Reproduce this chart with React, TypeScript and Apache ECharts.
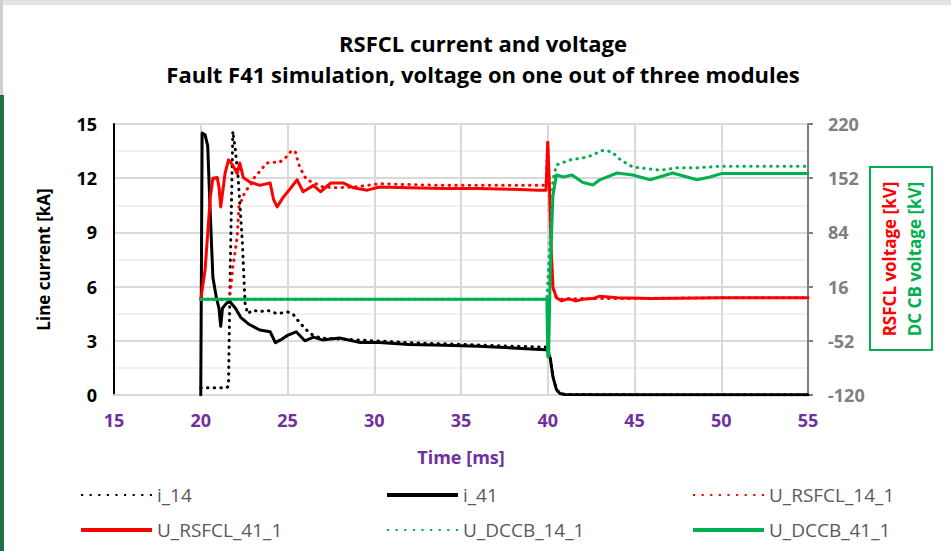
import React, { useEffect, useRef } from "react";
import * as echarts from "echarts";

// ---- data (time in ms, current in kA, voltage in kV) ----
const i14T = [20, 21.5, 21.6, 21.7, 21.85, 22.0, 22.15, 22.4, 22.55, 22.7, 23.0, 23.4, 23.8, 24.4, 25.0, 25.3, 25.7, 26.3, 26.9, 28, 30, 32, 35, 38, 39.9, 40.0, 40.15, 40.3, 40.5, 40.7, 41, 45, 50, 55];
const i14V = [0.4, 0.4, 0.5, 7, 14.6, 13.5, 12.1, 8.4, 5.1, 4.5, 4.7, 4.6, 4.7, 4.5, 4.6, 4.5, 4.0, 3.4, 3.15, 3.1, 3.0, 2.9, 2.8, 2.7, 2.65, 2.55, 2.0, 1.0, 0.3, 0.08, 0.03, 0.02, 0.02, 0.02];

const i41T = [20, 20.08, 20.25, 20.4, 20.55, 20.7, 20.9, 21.05, 21.15, 21.25, 21.5, 21.7, 22.0, 22.3, 22.8, 23.4, 24.0, 24.3, 24.6, 25.0, 25.5, 26.0, 26.5, 27.0, 28.0, 29.2, 30.3, 32, 34, 36, 38, 39, 39.9, 40.0, 40.15, 40.3, 40.5, 40.7, 41, 43, 45, 50, 55];
const i41V = [0, 14.5, 14.4, 13.8, 10, 6.5, 5.4, 4.8, 3.8, 4.8, 5.1, 5.15, 4.8, 4.3, 3.9, 3.6, 3.5, 2.9, 3.05, 3.3, 3.5, 3.0, 3.2, 3.05, 3.15, 2.9, 2.9, 2.8, 2.75, 2.7, 2.6, 2.55, 2.5, 2.45, 2.0, 1.0, 0.3, 0.08, 0.03, 0.02, 0.02, 0.02, 0.02];

const uRs14T = [20, 21.6, 21.7, 21.85, 22.1, 22.2, 22.4, 22.55, 22.85, 23.1, 23.3, 23.8, 24.15, 24.55, 24.95, 25.25, 25.45, 25.7, 26.1, 26.45, 27.05, 27.85, 28.8, 29.6, 30.3, 32, 34, 36, 38, 39.9, 40.0, 40.1, 40.2, 40.3, 40.5, 40.8, 42, 45, 50, 55];
const uRs14V = [0, 0, 9, 40, 78, 116, 127, 135, 143, 153, 158, 171, 172, 172, 179, 187, 185, 166, 150, 147, 141, 140, 141, 143, 145, 144, 143, 143, 143, 143, 197, 140, 60, 15, 2, 0, 1, 1, 2, 2];

const uRs41T = [20.0, 20.25, 20.55, 20.7, 20.95, 21.05, 21.15, 21.3, 21.4, 21.6, 21.85, 22.1, 22.25, 22.45, 22.85, 23.4, 24.0, 24.2, 24.4, 24.75, 25.2, 25.55, 25.9, 26.5, 26.9, 27.5, 28.2, 28.8, 29.6, 30.3, 32, 34, 36, 38, 39.5, 39.9, 40.0, 40.1, 40.2, 40.3, 40.5, 40.8, 41.2, 41.6, 42, 42.6, 43, 44, 46, 50, 55];
const uRs41V = [0, 37, 128, 152, 153, 141, 116, 141, 158, 175, 168, 158, 171, 153, 147, 143, 146, 125, 116, 128, 140, 150, 135, 143, 135, 146, 146, 140, 137, 141, 140, 139, 139, 138, 137, 137, 197, 140, 60, 15, 2, -2, 1, -2, 0, 1, 4, 2, 1, 2, 2];

const uDc14T = [20, 39.95, 40.1, 40.3, 40.5, 41.3, 42.3, 43.2, 43.7, 44.2, 44.9, 46.5, 47.45, 48.6, 49.9, 55];
const uDc14V = [0, 0, 60, 150, 168.6, 175, 178.6, 187, 185, 175, 166, 162, 165, 165, 167, 167];

const uDc41T = [20, 39.95, 40.0, 40.05, 40.15, 40.3, 40.5, 40.9, 41.4, 42.0, 42.6, 43.0, 44.0, 44.9, 45.9, 47.2, 48.6, 49.35, 50.05, 55];
const uDc41V = [0, 0, -72, -72, 40, 130, 156, 153.5, 156, 147, 143.5, 150, 158.5, 156, 150, 158.5, 150, 153.5, 158, 158];

const rightTicks = [-120, -52, 16, 84, 152, 220];

const FONT = "'Open Sans', 'Noto Sans', sans-serif";
const DOT: number[] = [0.5, 6.2];

const SOLID_ICON = "path://M0,0H71V4H0Z";
const DOT_ICON =
  "path://" +
  Array.from({ length: 9 }, (_, k) => `M${k * 8},0h2v2h-2Z`).join("");

const pair = (t: number[], v: number[]) => t.map((x, i) => [x, v[i]]);

export default function App() {
  const ref = useRef<HTMLDivElement>(null);
  useEffect(() => {
    const chart = echarts.init(ref.current!, undefined, { renderer: "svg" });
    const mk = (name: string, t: number[], v: number[], color: string, dotted: boolean, yAxisIndex: number) => ({
      name,
      type: "line",
      yAxisIndex,
      data: pair(t, v),
      symbol: "none",
      showSymbol: false,
      smooth: false,
      lineStyle: { color, width: 3, type: dotted ? DOT : "solid", cap: "round", join: "round" },
      itemStyle: { color },
      emphasis: { disabled: true },
    });
    const leg = (name: string, dotted: boolean, left: number, top: number) => ({
      orient: "horizontal",
      left,
      top,
      itemWidth: 71,
      itemHeight: 14,
      textStyle: { fontFamily: FONT, fontSize: 19, lineHeight: 20, color: "#595959" },
      selectedMode: false,
      data: [{ name, icon: dotted ? DOT_ICON : SOLID_ICON }],
    });
    const R1 = 480;
    const R2 = 515;
    const axisFont = { fontFamily: FONT, fontSize: 18, fontWeight: "bold" };
    chart.setOption({
      animation: false,
      backgroundColor: "#fff",
      grid: { left: 114, right: 143, top: 124, bottom: 156, containLabel: false },
      xAxis: {
        type: "value",
        min: 15,
        max: 55,
        interval: 5,
        name: "Time [ms]",
        nameLocation: "middle",
        nameGap: 53,
        nameTextStyle: { ...axisFont, color: "#7030a0" },
        axisLine: { show: true, lineStyle: { color: "#d9d9d9", width: 2 } },
        axisTick: { show: false },
        axisLabel: { ...axisFont, color: "#7030a0", margin: 16 },
        splitLine: { show: true, lineStyle: { color: "#d9d9d9", width: 2 } },
      },
      yAxis: [
        {
          type: "value",
          min: 0,
          max: 15,
          interval: 3,
          name: "Line current [kA]",
          nameLocation: "middle",
          nameGap: 62,
          nameTextStyle: { fontFamily: FONT, fontSize: 17, fontWeight: "bold", color: "#000" },
          axisLine: { show: true, onZero: false, lineStyle: { color: "#000", width: 2 } },
          axisTick: { show: false },
          axisLabel: { ...axisFont, color: "#000", margin: 17 },
          splitLine: { show: true, lineStyle: { color: "#d9d9d9", width: 2 } },
          minorTick: { show: false, splitNumber: 2 },
          minorSplitLine: { show: true, lineStyle: { color: "#f0f0f0", width: 2 } },
        },
        {
          type: "value",
          position: "right",
          min: -120,
          max: 220,
          splitNumber: 5,
          axisLine: { show: true, onZero: false, lineStyle: { color: "#7f7f7f", width: 2 } },
          axisTick: { show: true, length: 5, inside: false, customValues: rightTicks, lineStyle: { color: "#7f7f7f", width: 2 } },
          axisLabel: { ...axisFont, color: "#7f7f7f", margin: 20, customValues: rightTicks },
          splitLine: { show: false },
        },
      ],
      legend: [
        leg("i_14", true, 76, R1),
        leg("i_41", false, 382, R1),
        leg("U_RSFCL_14_1", true, 688, R1),
        leg("U_RSFCL_41_1", false, 76, R2),
        leg("U_DCCB_14_1", true, 382, R2),
        leg("U_DCCB_41_1", false, 688, R2),
      ],
      graphic: [
        { type: "rect", shape: { x: 0, y: 0, width: 951, height: 5 }, style: { fill: "#e3e3e3" }, silent: true },
        { type: "rect", shape: { x: 0, y: 0, width: 3, height: 95 }, style: { fill: "#d0d0d0" }, silent: true },
        { type: "rect", shape: { x: 0, y: 95, width: 4, height: 456 }, style: { fill: "#1e7145" }, silent: true },
        {
          type: "text",
          x: 483,
          y: 43,
          style: { text: "RSFCL current and voltage", align: "center", verticalAlign: "middle", fontFamily: FONT, fontSize: 22, fontWeight: "bold", fill: "#000" },
        },
        {
          type: "text",
          x: 483,
          y: 74,
          style: { text: "Fault F41 simulation, voltage on one out of three modules", align: "center", verticalAlign: "middle", fontFamily: FONT, fontSize: 22, fontWeight: "bold", fill: "#000" },
        },
        { type: "rect", shape: { x: 870, y: 167, width: 62, height: 183 }, style: { fill: "none", stroke: "#00b050", lineWidth: 2 }, silent: true },
        {
          type: "text",
          x: 889,
          y: 259,
          rotation: Math.PI / 2,
          style: { text: "RSFCL voltage [kV]", align: "center", verticalAlign: "middle", fontFamily: FONT, fontSize: 17, fontWeight: "bold", fill: "#ff0000" },
        },
        {
          type: "text",
          x: 914,
          y: 259,
          rotation: Math.PI / 2,
          style: { text: "DC CB voltage [kV]", align: "center", verticalAlign: "middle", fontFamily: FONT, fontSize: 17, fontWeight: "bold", fill: "#00b050" },
        },
      ],
      series: [
        mk("i_14", i14T, i14V, "#000000", true, 0),
        mk("i_41", i41T, i41V, "#000000", false, 0),
        mk("U_RSFCL_14_1", uRs14T, uRs14V, "#ff0000", true, 1),
        mk("U_RSFCL_41_1", uRs41T, uRs41V, "#ff0000", false, 1),
        mk("U_DCCB_14_1", uDc14T, uDc14V, "#00b050", true, 1),
        mk("U_DCCB_41_1", uDc41T, uDc41V, "#00b050", false, 1),
      ],
    });
    return () => chart.dispose();
  }, []);
  return <div ref={ref} style={{ position: "absolute", left: 0, top: 0, width: 951, height: 551 }} />;
}
